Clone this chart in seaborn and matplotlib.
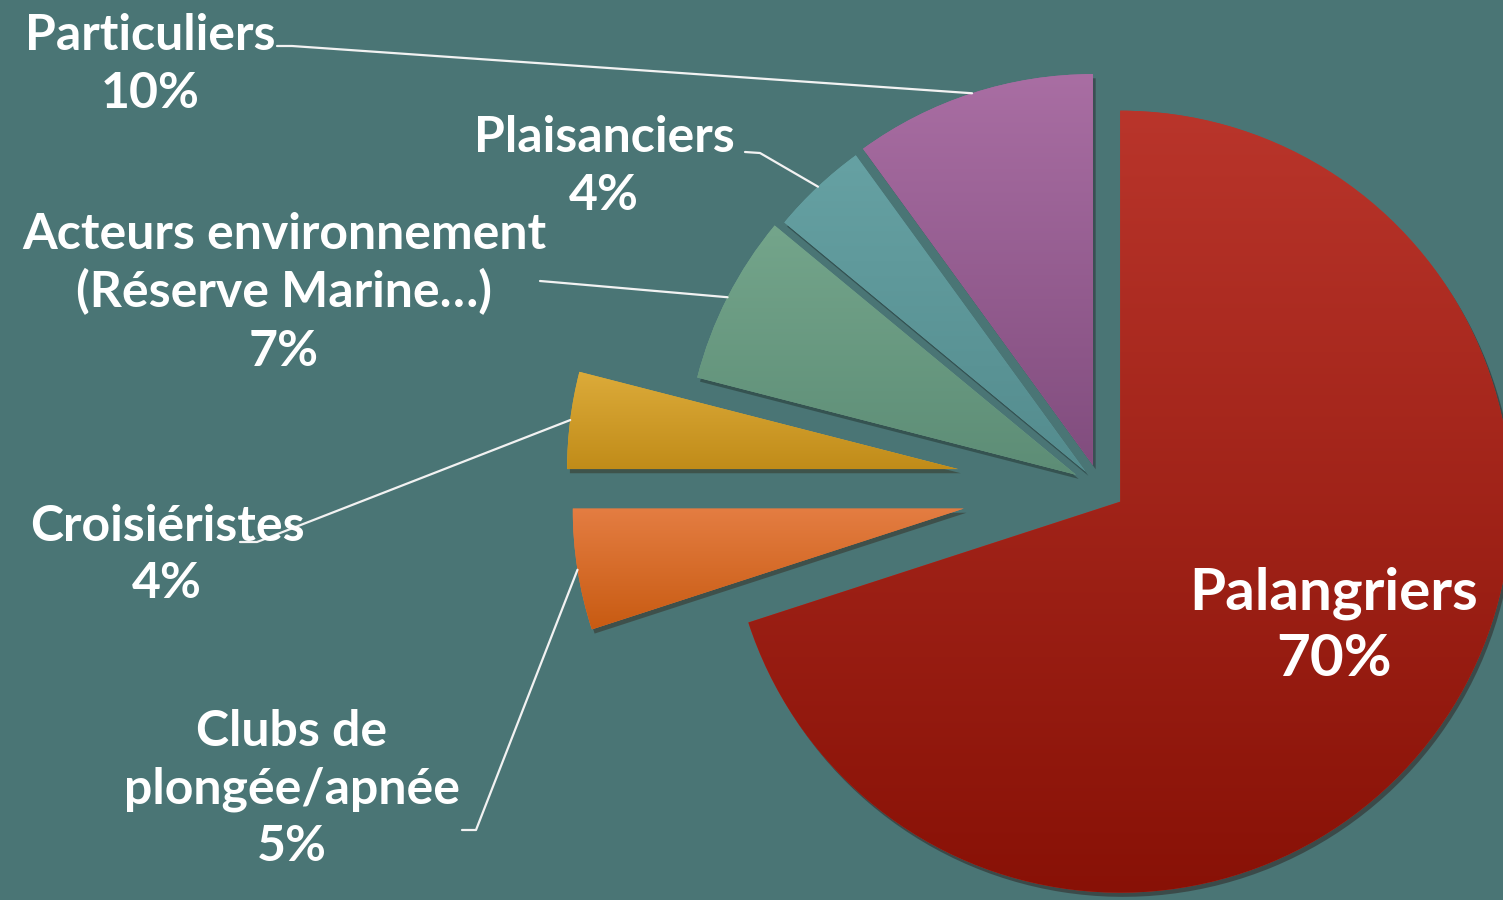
import numpy as np
import matplotlib
matplotlib.use("Agg")
import matplotlib.pyplot as plt
from matplotlib.colors import to_rgb
import seaborn as sns

# shares in %, listed clockwise from 12 o'clock
categories = ["Palangriers", "Clubs de plongée/apnée", "Croisiéristes",
              "Acteurs environnement (Réserve Marine…)", "Plaisanciers", "Particuliers"]
shares = [70, 5, 4, 7, 4, 10]

# text lines of each label (the share is added as last line)
label_lines = [
    ["Palangriers"],
    ["Clubs de", "plongée/apnée"],
    ["Croisiéristes"],
    ["Acteurs environnement", "(Réserve Marine…)"],
    ["Plaisanciers"],
    ["Particuliers"],
]

# styling / layout (pixel units, y from the top)
bg = "#4a7575"
top_colors = ["#b9352b", "#e47d42", "#dcab3a", "#74a58b", "#66a1a3", "#a96ea3"]
bottom_colors = ["#881106", "#c85b12", "#c18c19", "#5d8d76", "#548c8e", "#814d7e"]
explode_px = [25, 138, 143, 27, 21, 23]
label_x = [1334, 292, 167, 284, 604, 150]
label_base = [[610, 676], [746, 803, 861], [541, 598], [249, 307, 366], [152, 210], [50, 108]]
label_size = [42, 36, 36, 36, 36, 36]
hooks = [None,
         [(462, 830), (476, 830)],
         [(240, 542), (257, 542)],
         [(540, 281), (552, 282)],
         [(745, 152), (760, 153)],
         [(277, 46), (292, 46)]]

sns.set_theme(style="white")
plt.rcParams["font.family"] = ["Lato", "DejaVu Sans"]

fig = plt.figure(figsize=(15.03, 9.0), dpi=100, facecolor=bg)
ax = fig.add_axes([0, 0, 1, 1])
ax.set_facecolor(bg)

wedges, _ = ax.pie(shares, explode=explode_px, colors=top_colors,
                   startangle=-90, counterclock=True,
                   center=(1100, 487), radius=391,
                   wedgeprops={"linewidth": 0},
                   shadow={"ox": 2, "oy": 3, "shade": 0.8, "alpha": 0.4, "zorder": 0.8})

# vertical gradient inside each wedge
for w, c0, c1 in zip(wedges, top_colors, bottom_colors):
    v = w.get_path().vertices
    x0, x1 = v[:, 0].min(), v[:, 0].max()
    y0, y1 = v[:, 1].min(), v[:, 1].max()
    t = np.linspace(0, 1, 256)[:, None, None]
    grad = (1 - t) * np.array(to_rgb(c0)) + t * np.array(to_rgb(c1))
    im = ax.imshow(grad, extent=(x0, x1, y1, y0), origin="upper",
                   aspect="auto", interpolation="bilinear", zorder=1.2)
    im.set_clip_path(w)

# labels and leader lines
for i, w in enumerate(wedges):
    lines = label_lines[i] + [f"{shares[i]}%"]
    for txt, yb in zip(lines, label_base[i]):
        ax.text(label_x[i], yb, txt, ha="center", va="baseline",
                fontsize=label_size[i], fontweight="bold", color="white", zorder=3)
    if hooks[i] is not None:
        tm = np.deg2rad((w.theta1 + w.theta2) / 2)
        px = w.center[0] + w.r * np.cos(tm)
        py = w.center[1] + w.r * np.sin(tm)
        xs = [p[0] for p in hooks[i]] + [px]
        ys = [p[1] for p in hooks[i]] + [py]
        ax.plot(xs, ys, color="#f2f2f2", lw=1.6, zorder=2.5)

ax.set_xlim(0, 1503)
ax.set_ylim(900, 0)
ax.set_aspect("equal")
ax.axis("off")

fig.savefig("out.png", dpi=100, facecolor=bg)
